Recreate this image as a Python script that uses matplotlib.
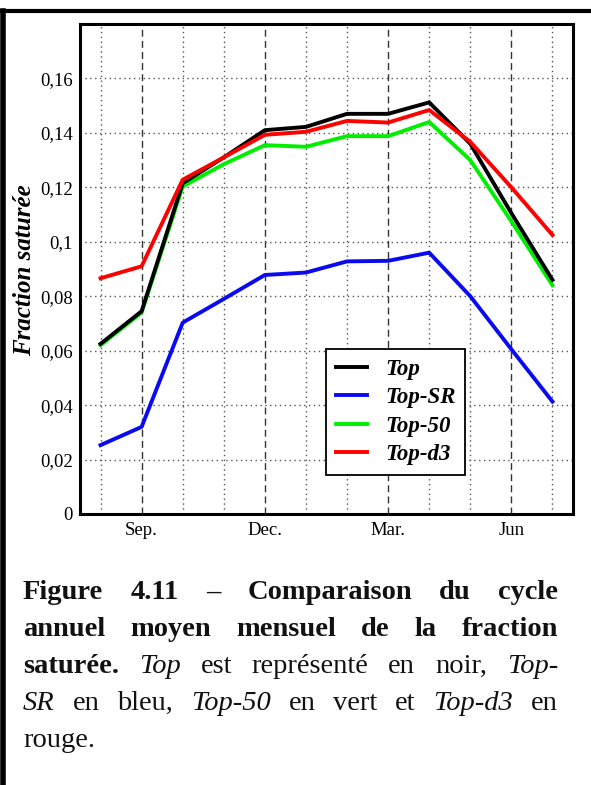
import matplotlib
matplotlib.use("Agg")
import matplotlib.pyplot as plt
from matplotlib.lines import Line2D
from matplotlib.ticker import FixedLocator, FuncFormatter

# Cycle annuel moyen mensuel (août -> juillet)
mois = [1, 2, 3, 4, 5, 6, 7, 8, 9, 10, 11, 12]
mois_ticks = [2, 5, 8, 11]
mois_labels = ["Sep.", "Dec.", "Mar.", "Jun"]

frac_top = [0.0625, 0.0745, 0.1215, 0.1310, 0.1410, 0.1422, 0.1470, 0.1470, 0.1512, 0.1360, 0.1105, 0.0860]
frac_top_sr = [0.0253, 0.0320, 0.0703, 0.0790, 0.0878, 0.0887, 0.0928, 0.0930, 0.0960, 0.0800, 0.0605, 0.0413]
frac_top_50 = [0.0620, 0.0740, 0.1203, 0.1285, 0.1355, 0.1349, 0.1388, 0.1388, 0.1440, 0.1300, 0.1075, 0.0840]
frac_top_d3 = [0.0866, 0.0910, 0.1228, 0.1310, 0.1393, 0.1404, 0.1444, 0.1438, 0.1484, 0.1367, 0.1200, 0.1025]

y_ticks = [0, 0.02, 0.04, 0.06, 0.08, 0.1, 0.12, 0.14, 0.16]

W, H = 591, 785
SERIF = "Liberation Serif"

fig = plt.figure(figsize=(W / 100, H / 100), dpi=100)

# cadre autour de la figure
fig.add_artist(Line2D([3 / W, 3 / W], [0, 1 - 11 / H], color="black", lw=4.0, transform=fig.transFigure))
fig.add_artist(Line2D([1 / W, 1], [1 - 11 / H, 1 - 11 / H], color="black", lw=3.0, transform=fig.transFigure))

ax = fig.add_axes([80 / W, 1 - 514 / H, (573 - 80) / W, (514 - 24) / H])

lw = 2.8
l_top, = ax.plot(mois, frac_top, color="black", lw=lw, zorder=4)
l_sr, = ax.plot(mois, frac_top_sr, color="#0a0af0", lw=lw, zorder=3)
l_50, = ax.plot(mois, frac_top_50, color="#00ee00", lw=lw, zorder=3)
l_d3, = ax.plot(mois, frac_top_d3, color="#ff0000", lw=lw, zorder=5)

ax.set_xlim(0.5, 12.5)
ax.set_ylim(0, 0.18)

ax.xaxis.set_major_locator(FixedLocator(mois_ticks))
ax.set_xticklabels(mois_labels)
ax.xaxis.set_minor_locator(FixedLocator([m for m in mois if m not in mois_ticks]))
ax.set_yticks(y_ticks)
ax.yaxis.set_major_formatter(FuncFormatter(lambda v, p: ("%g" % v).replace(".", ",")))

ax.tick_params(which="both", length=0, labelsize=13.5)
ax.tick_params(axis="y", pad=5)
ax.tick_params(axis="x", pad=6)
for lab in ax.get_xticklabels() + ax.get_yticklabels():
  lab.set_family(SERIF)

ax.grid(True, axis="x", which="major", color="#333333", lw=1.0, linestyle=(0, (5, 3)))
ax.grid(True, axis="x", which="minor", color="#555555", lw=1.0, linestyle=(0, (1, 2.5)))
ax.grid(True, axis="y", which="major", color="#555555", lw=1.0, linestyle=(0, (1, 2.5)))
ax.set_axisbelow(True)

for s in ax.spines.values():
  s.set_linewidth(2.2)
  s.set_color("black")

fig.text(25 / W, 1 - 270 / H, "Fraction saturée", rotation=90, ha="center", va="center",
         family=SERIF, fontsize=18, fontweight="bold", fontstyle="italic")

leg = ax.legend([l_top, l_sr, l_50, l_d3], ["Top", "Top-SR", "Top-50", "Top-d3"],
                loc="lower left", bbox_to_anchor=((326 - 80) / 493, (514 - 475) / 490),
                prop={"family": SERIF, "size": 16.5, "weight": "bold", "style": "italic"},
                fancybox=False, framealpha=1, edgecolor="black", handlelength=1.35,
                handletextpad=0.8, labelspacing=0.33, borderpad=0.42, borderaxespad=0)
leg.get_frame().set_linewidth(1.3)
leg.set_zorder(10)

# légende de la figure, texte justifié
caption = [
  [("Figure", "b"), ("4.11", "b"), ("–", "b"), ("Comparaison", "b"), ("du", "b"), ("cycle", "b")],
  [("annuel", "b"), ("moyen", "b"), ("mensuel", "b"), ("de", "b"), ("la", "b"), ("fraction", "b")],
  [("saturée.", "b"), ("Top", "i"), ("est", "r"), ("représenté", "r"), ("en", "r"), ("noir,", "r"), ("Top-", "i")],
  [("SR", "i"), ("en", "r"), ("bleu,", "r"), ("Top-50", "i"), ("en", "r"), ("vert", "r"), ("et", "r"), ("Top-d3", "i"), ("en", "r")],
  [("rouge.", "r")],
]
baselines = [599, 636, 673, 710, 747]
x_gauche, x_droite = 23, 558

renderer = fig.canvas.get_renderer()
for i, (ligne, yb) in enumerate(zip(caption, baselines)):
  textes = []
  for mot, st in ligne:
    t = fig.text(0, 1 - yb / H, mot, ha="left", va="baseline", family=SERIF, fontsize=20.5,
                 fontweight="bold" if st == "b" else "normal",
                 fontstyle="italic" if st == "i" else "normal", color="#111111")
    textes.append(t)
  largeurs = [t.get_window_extent(renderer).width for t in textes]
  if len(textes) > 1 and i < len(caption) - 1:
    ecart = (x_droite - x_gauche - sum(largeurs)) / (len(textes) - 1)
  else:
    ecart = 6
  x = x_gauche
  for t, w in zip(textes, largeurs):
    t.set_x(x / W)
    x += w + ecart

plt.savefig("out.png", dpi=100)
plt.close()
